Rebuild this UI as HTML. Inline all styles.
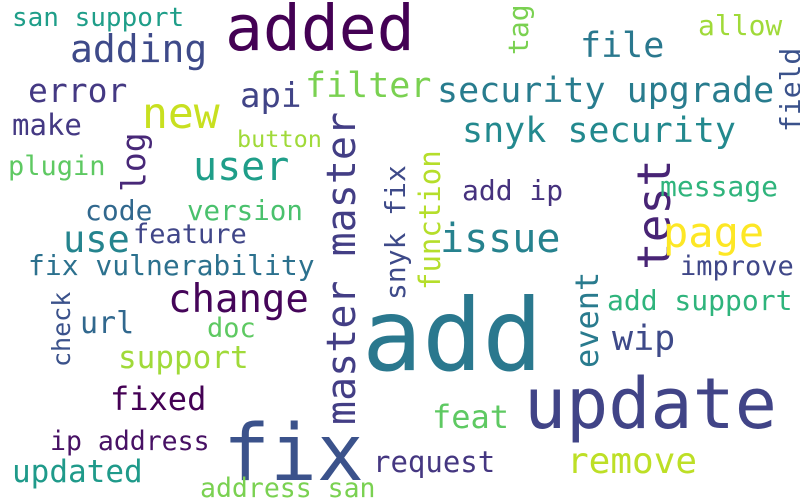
<!DOCTYPE html>
<html><head><meta charset="utf-8"><style>
html,body{margin:0;padding:0;background:#fff;}
svg{display:block;}
text{font-family:"DejaVu Sans Mono","Liberation Mono",monospace;}
</style></head><body>
<svg width="800" height="500" viewBox="0 0 800 500">
<rect width="800" height="500" fill="#fff"/>
<text x="225" y="50" font-size="63" fill="#440154">added</text>
<text x="362" y="370" font-size="100" fill="#2a788e">add</text>
<text x="524" y="428" font-size="70" fill="#414487">update</text>
<text x="223" y="480" font-size="78" fill="#3b528b">fix</text>
<text x="12" y="26" font-size="26" fill="#1f9e89">san support</text>
<text x="70" y="62" font-size="38" fill="#3e4a89">adding</text>
<text x="580" y="57" font-size="35" fill="#2a788e">file</text>
<text x="698" y="35" font-size="28" fill="#a0da39">allow</text>
<text transform="translate(528,55) rotate(-90)" font-size="28" fill="#7ad151">tag</text>
<text transform="translate(800,132) rotate(-90)" font-size="28" fill="#3b528b">field</text>
<text x="28" y="102" font-size="33" fill="#443983">error</text>
<text x="142" y="128" font-size="43" fill="#c8e020">new</text>
<text x="240" y="107" font-size="34" fill="#414487">api</text>
<text x="305" y="97" font-size="35" fill="#7ad151">filter</text>
<text x="437" y="102" font-size="35" fill="#287c8e">security upgrade</text>
<text x="12" y="135" font-size="29" fill="#443983">make</text>
<text transform="translate(355,425) rotate(-90)" font-size="40" fill="#433e85">master master</text>
<text x="462" y="142" font-size="35" fill="#23898e">snyk security</text>
<text x="237" y="147" font-size="23.5" fill="#a0da39">button</text>
<text transform="translate(145,192) rotate(-90)" font-size="33" fill="#482878">log</text>
<text x="193" y="180" font-size="40" fill="#1f9e89">user</text>
<text x="8" y="175" font-size="27" fill="#5ec962">plugin</text>
<text transform="translate(670,270) rotate(-90)" font-size="46" fill="#482475">test</text>
<text transform="translate(405,300) rotate(-90)" font-size="28" fill="#3e4a89">snyk fix</text>
<text transform="translate(440,290) rotate(-90)" font-size="29" fill="#b5de2b">function</text>
<text x="462" y="200" font-size="28" fill="#46327e">add ip</text>
<text x="660" y="196" font-size="28" fill="#2fb47c">message</text>
<text x="85" y="220" font-size="28" fill="#31688e">code</text>
<text x="187" y="220" font-size="27.5" fill="#4ac16d">version</text>
<text x="440" y="252" font-size="40" fill="#26828e">issue</text>
<text x="663" y="247" font-size="42" fill="#fde725">page</text>
<text x="63" y="252" font-size="37" fill="#25848e">use</text>
<text x="133" y="243" font-size="27" fill="#404688">feature</text>
<text x="28" y="275" font-size="28" fill="#2c718e">fix vulnerability</text>
<text x="680" y="275" font-size="27" fill="#3f4788">improve</text>
<text x="168" y="312" font-size="39" fill="#450559">change</text>
<text transform="translate(70,367) rotate(-90)" font-size="25" fill="#3b528b">check</text>
<text transform="translate(598,368) rotate(-90)" font-size="32" fill="#297b8e">event</text>
<text x="607" y="310" font-size="28" fill="#2fb47c">add support</text>
<text x="80" y="333" font-size="30" fill="#31688e">url</text>
<text x="207" y="337" font-size="27" fill="#5ec962">doc</text>
<text x="612" y="350" font-size="35" fill="#3e4a89">wip</text>
<text x="118" y="368" font-size="31" fill="#a0da39">support</text>
<text x="110" y="410" font-size="32" fill="#440154">fixed</text>
<text x="432" y="428" font-size="32" fill="#5ec962">feat</text>
<text x="50" y="450" font-size="26.5" fill="#471164">ip address</text>
<text x="373" y="472" font-size="29" fill="#453781">request</text>
<text x="567" y="473" font-size="36" fill="#bddf26">remove</text>
<text x="12" y="482" font-size="31" fill="#1f9a8a">updated</text>
<text x="200" y="497" font-size="26.5" fill="#7ad151">address san</text>
</svg>
</body></html>
